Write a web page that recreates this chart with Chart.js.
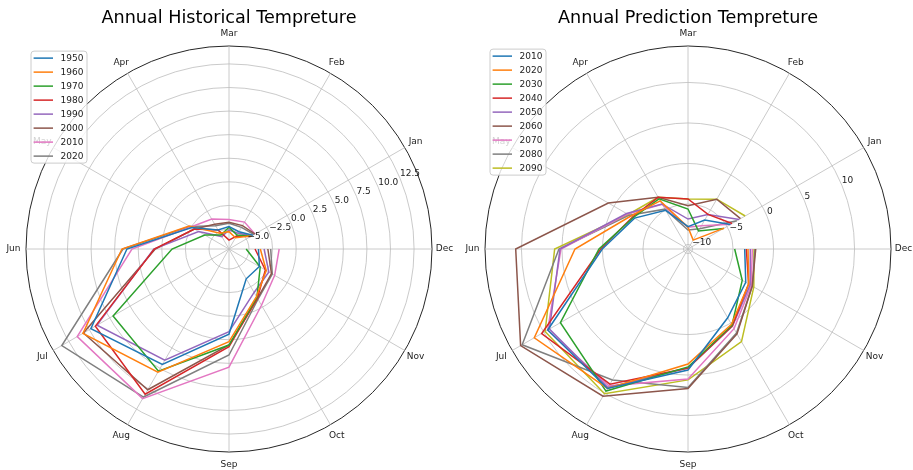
<!DOCTYPE html>
<html>
<head>
    <title>Annual Tempreture</title>
    <script src="https://cdn.jsdelivr.net/npm/chart.js@4.4.0/dist/chart.umd.min.js"></script>
    <style>
        body { margin: 0; background: #fff; }
        #wrap { position: relative; width: 913px; height: 470px; }
        canvas { position: absolute; top: 0; }
    </style>
</head>
<body>
<div id="wrap">
    <canvas id="histChart" width="456" height="470" style="left:0"></canvas>
    <canvas id="predChart" width="457" height="470" style="left:456px"></canvas>
</div>

<script>
    // months, Jan..Dec
    const months = ['Jan', 'Feb', 'Mar', 'Apr', 'May', 'Jun', 'Jul', 'Aug', 'Sep', 'Oct', 'Nov', 'Dec'];

    // historical series (Jan..Dec)
    const histYears = ['1950', '1960', '1970', '1980', '1990', '2000', '2010', '2020'];
    const hist1950 = [-4.2, -5.0, -4.75, -4.8, -2.56, 3.7, 9.79, 7.02, 1.9, -3.47, -3.4, -4.0];
    const hist1960 = [-4.3, -5.74, -5.28, -5.2, -2.24, 4.23, 10.76, 7.96, 2.7, -1.3, -2.56, -3.8];
    const hist1970 = [-4.4, -5.42, -4.82, -5.4, -4.15, -1.08, 7.07, 7.83, 3.06, -1.2, -3.3, -5.3];
    const hist1980 = [-4.47, -5.53, -6.17, -4.8, -2.88, 0.8, 9.24, 10.66, 3.24, -1.1, -2.67, -4.36];
    const hist1990 = [-4.3, -5.2, -5.1, -5.6, -3.4, 0.86, 9.03, 6.5, 1.65, -1.8, -2.24, -3.4];
    const hist2000 = [-3.94, -4.26, -4.29, -4.1, -2.88, 0.7, 10.7, 10.11, 3.06, -1.08, -1.92, -3.0];
    const hist2010 = [-3.94, -3.83, -4.0, -3.46, -2.45, 3.17, 11.46, 11.2, 5.4, -0.23, -1.53, -1.8];
    const hist2020 = [-4.05, -4.47, -4.4, -4.26, -2.35, 4.12, 13.35, 11.0, 4.12, -0.97, -1.82, -2.7];

    // prediction series (Jan..Dec)
    const predYears = ['2010', '2020', '2030', '2040', '2050', '2060', '2070', '2080', '2090'];
    const pred2010 = [-4.51, -6.44, -7.81, -5.04, -2.94, 0.02, 9.44, 9.32, 4.38, -0.76, -2.33, -3.56];
    const pred2020 = [-5.41, -9.29, -7.88, -3.7, -2.41, 3.39, 11.35, 9.32, 3.64, 0.18, -1.92, -3.15];
    const pred2030 = [-5.47, -7.98, -5.62, -3.4, -2.78, 0.43, 7.63, 9.69, 4.0, 0.3, -2.83, -4.8];
    const pred2040 = [-4.28, -5.62, -4.39, -3.19, -2.66, 0.22, 10.3, 8.7, 4.13, 0.38, -1.92, -3.36];
    const pred2050 = [-3.25, -5.66, -6.86, -4.14, -1.8, 5.24, 9.19, 9.19, 4.13, 0.43, -1.7, -2.87];
    const pred2060 = [-3.08, -3.46, -5.21, -3.19, 0.8, 10.71, 13.3, 10.43, 6.66, 1.54, -1.4, -2.2];
    const pred2070 = [-4.46, -7.24, -7.88, -4.2, -1.92, 5.12, 9.44, 8.95, 5.49, 0.8, -1.55, -2.62];
    const pred2080 = [-3.6, -7.67, -8.21, -4.88, -2.2, 5.37, 13.08, 8.1, 6.54, 1.42, -1.4, -2.29];
    const pred2090 = [-2.41, -3.46, -4.39, -3.19, -2.04, 5.9, 9.81, 10.06, 5.6, 2.65, -1.18, -2.41];

    // radial axes
    const histMin = -7.12, histMax = 14.4;
    const histTicks = [-5, -2.5, 0, 2.5, 5, 7.5, 10, 12.5];
    const histTickLabels = ['\u22125.0', '\u22122.5', '0.0', '2.5', '5.0', '7.5', '10.0', '12.5'];
    const predMin = -10.56, predMax = 14.5;
    const predTicks = [-10, -5, 0, 5, 10];
    const predTickLabels = ['\u221210', '\u22125', '0', '5', '10'];

    const colors = ['#1f77b4', '#ff7f0e', '#2ca02c', '#d62728', '#9467bd', '#8c564b', '#e377c2', '#7f7f7f', '#bcbd22'];

    Chart.defaults.font.family = "'DejaVu Sans', sans-serif";
    Chart.defaults.color = '#222';

    // radar goes clockwise from Dec (east), so reverse Jan..Dec
    const chartLabels = months.slice().reverse();

    function makeDatasets(years, series) {
        return years.map((y, i) => ({
            label: y,
            data: series[i].slice().reverse(),
            borderColor: colors[i],
            backgroundColor: colors[i],
            borderWidth: 1.5,
            pointRadius: 0,
            fill: false
        }));
    }

    // matplotlib does not close the line between Dec and Jan
    const openLoop = {
        id: 'openLoop',
        afterDatasetUpdate(chart, args) {
            const line = args.meta.dataset;
            if (line) {
                line._fullLoop = false;
                delete line._segments;
                delete line._path;
            }
        }
    };

    // month labels, radial tick labels and a matplotlib style legend
    const polarText = {
        id: 'polarText',
        afterDatasetsDraw(chart, args, opts) {
            const ctx = chart.ctx;
            const scale = chart.scales.r;
            ctx.save();
            ctx.font = '9px "DejaVu Sans"';
            ctx.fillStyle = '#222';

            ctx.textAlign = 'center';
            ctx.textBaseline = 'middle';
            chart.data.labels.forEach((lab, i) => {
                const p = scale.getPointPosition(i, scale.drawingArea + 12.5);
                ctx.fillText(lab, p.x, p.y);
            });

            const a = -22.5 * Math.PI / 180;
            ctx.textAlign = 'left';
            ctx.textBaseline = 'bottom';
            opts.ticks.forEach((v, i) => {
                const d = scale.getDistanceFromCenterForValue(v);
                ctx.fillText(opts.tickLabels[i], scale.xCenter + Math.cos(a) * d, scale.yCenter + Math.sin(a) * d);
            });

            // legend
            const sets = chart.data.datasets;
            const bx = chart.chartArea.left + 5;
            const by = chart.chartArea.top + opts.legendTop;
            const bw = 56, bh = 14 * sets.length, rr = 3;
            ctx.beginPath();
            ctx.moveTo(bx + rr, by);
            ctx.lineTo(bx + bw - rr, by);
            ctx.arcTo(bx + bw, by, bx + bw, by + rr, rr);
            ctx.lineTo(bx + bw, by + bh - rr);
            ctx.arcTo(bx + bw, by + bh, bx + bw - rr, by + bh, rr);
            ctx.lineTo(bx + rr, by + bh);
            ctx.arcTo(bx, by + bh, bx, by + bh - rr, rr);
            ctx.lineTo(bx, by + rr);
            ctx.arcTo(bx, by, bx + rr, by, rr);
            ctx.closePath();
            ctx.fillStyle = 'rgba(255,255,255,0.8)';
            ctx.fill();
            ctx.strokeStyle = '#cccccc';
            ctx.lineWidth = 1;
            ctx.stroke();

            ctx.textBaseline = 'middle';
            sets.forEach((ds, i) => {
                const yy = by + 7 + 14 * i;
                ctx.beginPath();
                ctx.moveTo(bx + 2.6, yy);
                ctx.lineTo(bx + 22, yy);
                ctx.strokeStyle = ds.borderColor;
                ctx.lineWidth = 1.5;
                ctx.stroke();
                ctx.fillStyle = '#222';
                ctx.fillText(ds.label, bx + 29.5, yy + 0.5);
            });
            ctx.restore();
        }
    };

    function makeChart(id, title, years, series, rMin, rMax, ticks, tickLabels, pad, legendTop) {
        const ctx = document.getElementById(id).getContext('2d');
        return new Chart(ctx, {
            type: 'radar',
            data: { labels: chartLabels, datasets: makeDatasets(years, series) },
            options: {
                responsive: false,
                animation: false,
                events: [],
                layout: { padding: pad },
                elements: { line: { tension: 0 } },
                scales: {
                    r: {
                        min: rMin,
                        max: rMax,
                        startAngle: 90,
                        afterBuildTicks: scale => {
                            scale.ticks = [rMin].concat(ticks, [rMax]).map(v => ({ value: v }));
                        },
                        ticks: { display: false },
                        pointLabels: { display: false },
                        grid: {
                            circular: true,
                            color: c => (c.tick && c.tick.value === rMax) ? '#262626' :
                                        (c.tick && c.tick.value === rMin) ? 'rgba(0,0,0,0)' : '#bdbdbd',
                            lineWidth: c => (c.tick && c.tick.value === rMax) ? 1 : 0.8
                        },
                        angleLines: { color: '#bdbdbd', lineWidth: 0.8 }
                    }
                },
                plugins: {
                    legend: { display: false },
                    tooltip: { enabled: false },
                    title: {
                        display: true,
                        text: title,
                        color: '#000',
                        font: { size: 17.6, weight: 'normal', lineHeight: 1.2 },
                        padding: { top: 7.4, bottom: 17.6 }
                    },
                    polarText: { ticks: ticks, tickLabels: tickLabels, legendTop: legendTop }
                }
            },
            plugins: [openLoop, polarText]
        });
    }

    makeChart('histChart', 'Annual Historical Tempreture', histYears,
        [hist1950, hist1960, hist1970, hist1980, hist1990, hist2000, hist2010, hist2020],
        histMin, histMax, histTicks, histTickLabels,
        { left: 26, right: 24, top: 0, bottom: 17.8 }, 5);

    makeChart('predChart', 'Annual Prediction Tempreture', predYears,
        [pred2010, pred2020, pred2030, pred2040, pred2050, pred2060, pred2070, pred2080, pred2090],
        predMin, predMax, predTicks, predTickLabels,
        { left: 29, right: 22, top: 0, bottom: 17.8 }, 3);
</script>
</body>
</html>
